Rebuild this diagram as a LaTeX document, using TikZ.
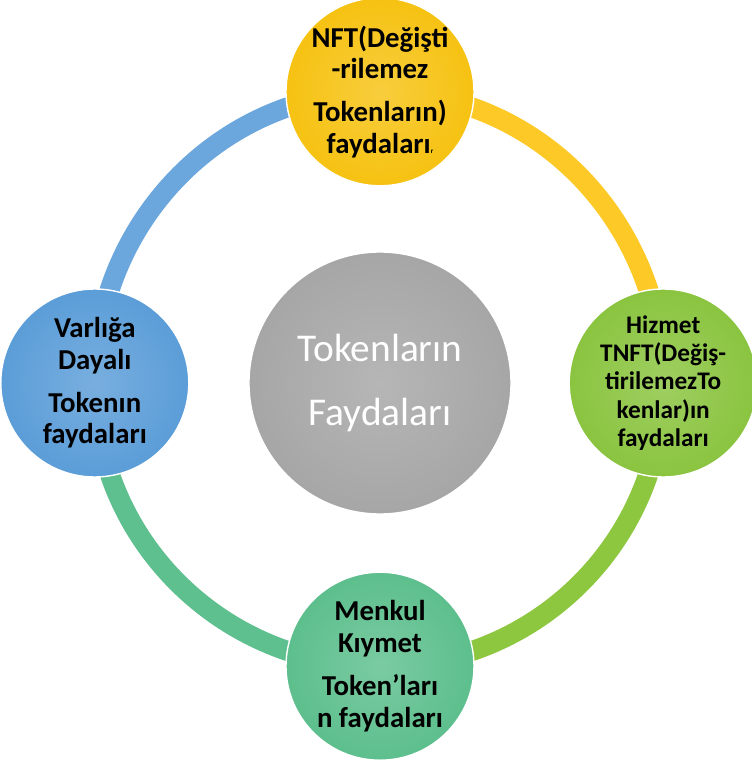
\documentclass[tikz,border=0pt]{standalone}
\usepackage{fontspec}
\setmainfont{Carlito}
\usetikzlibrary{positioning,backgrounds}
\definecolor{hubgray}   {HTML}{A6A6A6}
\definecolor{ballyellow}{HTML}{F6C212}
\definecolor{ballgreen} {HTML}{8AC43F}
\definecolor{ballteal}  {HTML}{5DBF8D}
\definecolor{ballblue}  {HTML}{5B9DD8}
\definecolor{ringyellow}{HTML}{FDC927}
\definecolor{ringgreen} {HTML}{8DC63F}
\definecolor{ringteal}  {HTML}{5EC08F}
\definecolor{ringblue}  {HTML}{6BA7DC}
\tikzset{
  ballnode/.style={
    circle, minimum size=4.7cm, inner sep=-4pt,
    draw=white, line width=1pt,
    inner color=#1!82!white, outer color=#1,
    text=black, align=center,
    font=\fontsize{20.5}{22.5}\selectfont\bfseries
  },
  hubnode/.style={
    ballnode=hubgray, minimum size=6.55cm, inner sep=0pt,
    text=white, font=\fontsize{28}{34}\selectfont\mdseries
  },
  ringarc/.style={line width=0.5cm, line cap=butt, draw=#1}
}

\begin{document}
\begin{tikzpicture}[node distance=1.6cm]
  \useasboundingbox (-9.5,-9.425) rectangle (9.3,9.575);
  \node[hubnode] (hub) {Tokenların\\[11pt]Faydaları};
  \node[ballnode=ballyellow, above=1.62cm of hub] (nft)
    {NFT(Değişti\\-rilemez\\[8pt]Tokenların)\\faydaları{\tiny r}};
  \node[ballnode=ballgreen, right=1.42cm of hub, font=\fontsize{18}{20}\selectfont\bfseries] (tnft)
    {Hizmet\\TNFT(Değiş-\\tirilemezTo\\kenlar)ın\\faydaları};
  \node[ballnode=ballteal, below=1.42cm of hub] (menkul)
    {Menkul\\Kıymet\\[8pt]Token’ları\\n faydaları};
  \node[ballnode=ballblue, left=1.47cm of hub] (varlik)
    {Varlığa\\Dayalı\\[8pt]Tokenın\\faydaları};
  \begin{scope}[on background layer]
    \draw[ringarc=ringyellow] (nft.center) to[out=0, in=90] (tnft.center);
    \draw[ringarc=ringgreen] (tnft.center) to[out=-90, in=0] (menkul.center);
    \draw[ringarc=ringteal] (menkul.center) to[out=180, in=-90] (varlik.center);
    \draw[ringarc=ringblue] (varlik.center) to[out=90, in=180] (nft.center);
  \end{scope}
\end{tikzpicture}
\end{document}
